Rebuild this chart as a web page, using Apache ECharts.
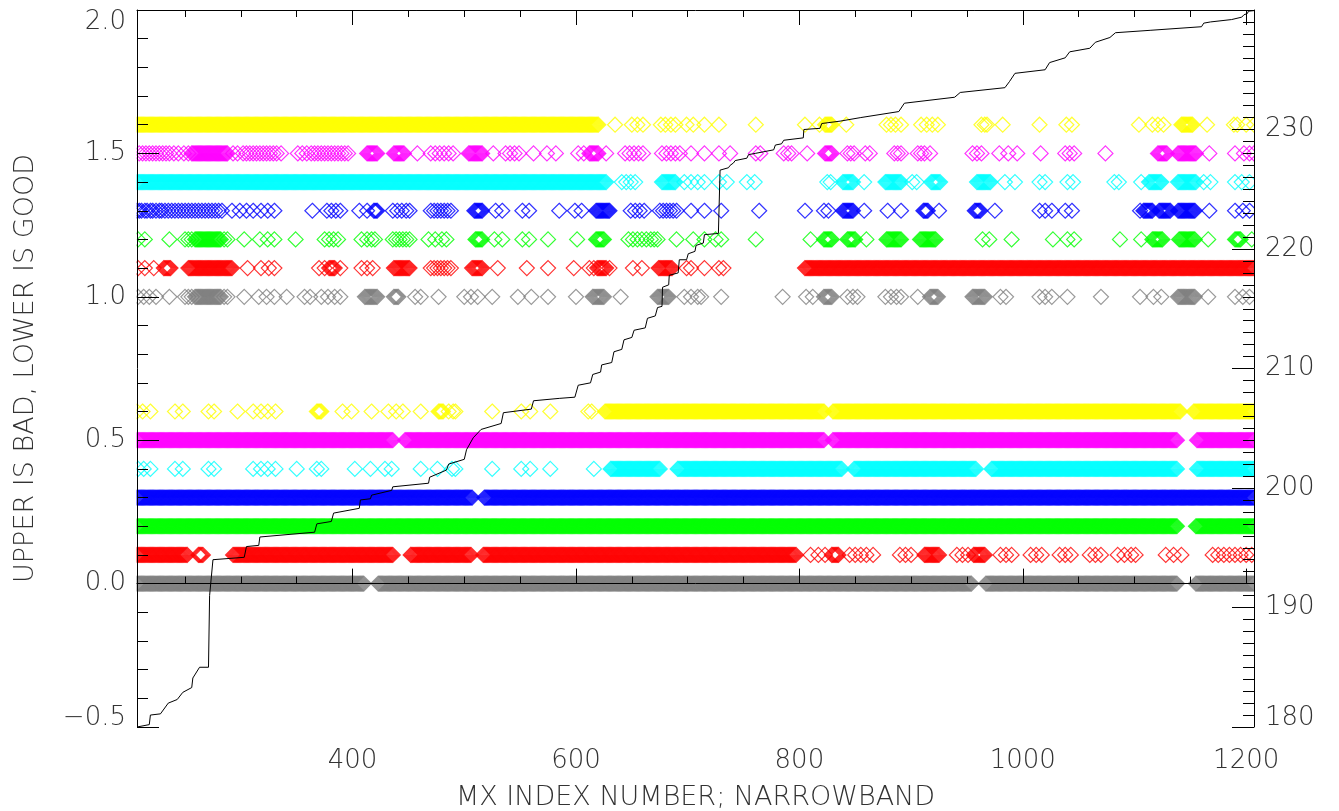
<!DOCTYPE html>
<html>
<head>
<meta charset="utf-8">
<script src="https://cdn.jsdelivr.net/npm/echarts@6/dist/echarts.min.js"></script>
<style>
html, body { margin: 0; padding: 0; background: #fff; }
#main { width: 1339px; height: 811px; }
</style>
</head>
<body>
<div id="main"></div>
<script>
// index range of the x axis
var xMin = 207;
var xMax = 1207;

// each entry is one index, or [from, to] meaning every index in between
var grayHi = [208, 213, 218, 224, 236, 250, 253, 256, [259, 282], 285, 288, 303, 316, 323, 330, 341, 357, 362, 372, 378, 384, 389,
    [411, 422], [437, 441], 456, 461, 477, 500, 506, 512, 525, 548, 560, 575, 600, [615, 625], 640, [673, 683], 697, 703,
    709, 712, 730, 785, 806, 812, [822, 829], 843, 848, 852, 877, 882, 887, 891, 906, [917, 924], [955, 966], 980, 985,
    1015, 1020, 1026, 1040, 1070, 1105, 1117, 1124, [1139, 1154], 1166, 1190, 1197, 1203];
var grayLo = [[207, 410], [423, 954], [967, 1138], [1155, 1207]];

var redHi = [208, 214, 222, [231, 237], [253, 292], 306, 318, 325, 330, 370, 375, [379, 384], 389, 408, 413, 418, [437, 451],
    470, 473, 476, 479, 482, 485, 488, [507, 516], 530, 556, 575, 598, 612, 616, [619, 627], 630, 651, 659, [674, 686],
    699, 703, 715, 728, 732, [805, 1207]];
var redLo = [[207, 252], [262, 266], [293, 436], [452, 506], [517, 797], 810, 817, 823, [829, 835], 845, 850, 855, 860, 866,
    890, 895, 900, [912, 925], 941, 946, 951, [956, 966], 980, 985, 990, 1007, 1012, 1017, 1033, 1038, 1043, 1060, 1065,
    1070, 1085, 1091, 1097, 1101, 1128, 1135, 1142, 1170, 1175, 1180, 1185, 1190, 1195, 1200, 1205];

var greenHi = [208, 214, 236, 250, 253, 256, [259, 282], 285, 288, 303, 317, 324, 330, 349, 375, 379, 383, 387, 408, 413, 417,
    420, 436, 439, 442, 445, 448, 451, 468, 474, 480, 484, [510, 516], 527, 534, 552, 558, 575, 601, [618, 625], 647, 651,
    655, 659, 663, 667, 670, 673, 690, 705, 715, 725, 730, 761, 810, [822, 829], [843, 850], 860, [878, 891], [908, 922],
    964, 970, 990, 1027, 1040, 1046, 1087, 1106, [1116, 1125], [1140, 1154], 1166, [1190, 1195], 1205];
var greenLo = [[207, 1138], [1155, 1207]];

var blueHi = [207, 209, 211, 214, 216, 219, 221, 224, 227, 229, 232, 235, 238, 241, 244, 247, 250, 253, 256, 259, 262, 265,
    268, 271, 274, 277, 280, 283, 292, 299, 305, 311, 318, 324, 330, 364, 377, 381, 385, 389, 406, 413, [419, 422], 436,
    440, 444, 448, 451, 470, 473, 476, 479, 482, 485, 488, [509, 516], 528, 534, 552, 558, 585, 599, 605, [618, 630], 649,
    653, 657, 661, 675, 678, 681, 684, 687, 690, 703, 715, 730, 764, 805, 822, 826, [839, 848], 858, 879, 891, [911, 915],
    925, [957, 962], 975, 1015, 1020, 1026, 1038, 1044, 1105, [1108, 1116], [1122, 1132], [1139, 1154], 1167, 1190, 1197, 1203];
var blueLo = [[207, 507], [518, 1207]];

var cyanHi = [[207, 627], 641, 645, 649, 653, [677, 689], 697, 703, 709, 715, 728, 735, 753, 760, 825, 828, [839, 848], 858,
    [877, 891], 901, 905, [918, 926], [959, 971], 984, 993, 1015, 1020, 1040, 1045, 1082, 1086, 1106, [1113, 1124],
    [1139, 1155], 1162, 1168, 1190, 1196, 1203];
var cyanLo = [208, 213, 219, 241, 248, 271, 276, 311, 318, 324, 331, 350, 368, 372, 402, 416, 429, 435, 461, 476, 489, 492,
    525, 551, 559, 577, 616, [631, 675], [691, 838], [849, 958], [972, 1138], [1156, 1207]];

var magentaHi = [209, 212, 215, 218, 221, 224, 227, 230, 233, 236, 240, 244, 249, 253, [256, 288], 293, 297, 302, 305, 308,
    311, 314, 317, 320, 323, 326, 329, 332, 336, 351, 355, 359, 363, 366, 369, 372, 375, 378, 381, 384, 387, 390, 393, 396,
    [413, 422], [437, 446], 458, 470, 474, 478, 482, 486, 490, [504, 516], 526, 537, 541, 545, 549, 562, 574, 582, 602, 607,
    [612, 620], 627, 644, 648, 652, 656, 660, 677, 681, 685, 689, 693, 703, 715, 728, 738, 761, 765, 786, 790, 793, 807,
    [823, 829], 843, 846, 849, 859, 863, 885, 888, 891, 906, 909, 912, 917, 955, 959, 963, 979, 987, 995, 1016, 1038, 1042,
    1046, 1074, [1121, 1129], [1139, 1155], 1167, 1190, 1198, 1203, 1207];
var magentaLo = [[207, 436], [447, 822], [830, 1138], [1156, 1207]];

var yellowHi = [[207, 620], 635, 650, 655, 660, 676, 680, 685, 689, 699, 705, 715, 728, 761, 805, 818, [823, 829], 842, 878,
    882, 886, 891, 909, 914, 919, 924, 963, 966, 968, 982, 1015, 1039, 1044, 1104, 1116, 1121, 1126, [1142, 1152], 1165,
    1189, 1192, 1200, 1207];
var yellowLo = [207, 212, 219, 241, 248, 271, 276, 297, 311, 318, 324, 331, [368, 372], 391, 399, 417, 432, 439, 445, 461,
    [477, 481], 486, 490, 492, 525, 551, 559, 577, 611, 614, [626, 822], [830, 1141], [1153, 1207]];

// rows from bottom to top: lower band 0.0-0.6, upper band 1.0-1.6
var rowColors = ['#808080', '#ff0000', '#00ff00', '#0000ff', '#00ffff', '#ff00ff', '#ffff00'];
var rowsLo = [grayLo, redLo, greenLo, blueLo, cyanLo, magentaLo, yellowLo];
var rowsHi = [grayHi, redHi, greenHi, blueHi, cyanHi, magentaHi, yellowHi];
var loLevels = [0.0, 0.1, 0.2, 0.3, 0.4, 0.5, 0.6];
var hiLevels = [1.0, 1.1, 1.2, 1.3, 1.4, 1.5, 1.6];

// black staircase on the right axis: [index, value]
var stepLine = [
    [207, 180.0], [208, 180.1], [218, 180.2], [219, 181.0], [228, 181.1], [235, 182.0], [243, 182.3], [248, 182.9],
    [256, 183.3], [257, 184.1], [263, 185.0], [271, 185.0], [272, 191.0], [275, 194.0], [303, 194.2], [305, 195.1],
    [316, 195.2], [317, 195.9], [366, 196.3], [368, 197.0], [381, 197.2], [383, 197.9], [406, 198.3], [407, 199.0],
    [416, 199.1], [417, 199.4], [435, 199.8], [436, 200.1], [468, 200.4], [469, 200.9], [484, 201.5], [486, 202.0],
    [500, 202.4], [502, 203.2], [508, 204.2], [515, 204.9], [533, 205.4], [535, 206.3], [560, 206.6], [562, 207.3],
    [585, 207.5], [599, 207.6], [602, 208.6], [613, 208.8], [615, 209.5], [622, 209.7], [623, 210.3], [632, 210.5],
    [634, 211.4], [641, 211.6], [643, 212.4], [650, 212.6], [652, 213.2], [662, 213.4], [664, 214.2], [671, 214.4],
    [673, 215.1], [677, 215.2], [677.5, 216.8], [683, 217.0], [683.5, 217.8], [691.5, 218.0], [692.5, 219.1], [699, 219.1],
    [700.5, 219.6], [706.5, 219.8], [707.5, 220.3], [714, 220.5], [715, 221.2], [727.5, 221.3], [729, 226.6], [736.5, 226.8],
    [738, 227.0], [741, 227.2], [742.5, 227.4], [753, 227.6], [754.5, 227.9], [760.5, 228.0], [762, 228.1], [777, 228.3],
    [778.5, 228.7], [784, 228.8], [786, 229.1], [803.5, 229.3], [804, 230.0], [818.5, 230.1], [820, 230.5], [836.5, 230.7],
    [838, 230.8], [855, 231.0], [889, 231.5], [894, 232.2], [939, 232.7], [944, 233.1], [984, 233.5], [988, 234.0],
    [993, 234.7], [1020, 235.0], [1024, 235.6], [1038, 236.0], [1042, 236.5], [1060, 236.8], [1065, 237.3], [1078, 237.7],
    [1083, 238.1], [1114, 238.3], [1160, 238.6], [1162, 238.9], [1168, 239.0], [1187, 239.2], [1196, 239.4], [1198, 239.6],
    [1201, 239.7], [1202, 239.9], [1207, 239.95]
];

function expand(list) {
    var out = [];
    list.forEach(function (e) {
        if (Array.isArray(e)) {
            for (var i = e[0]; i <= e[1]; i++) out.push(i);
        } else {
            out.push(e);
        }
    });
    return out;
}

var font = 'DejaVu Sans';
var textColor = '#333';
var textWeight = 200;

var series = [];
function addRow(list, level, color) {
    series.push({
        type: 'scatter',
        symbol: 'diamond',
        symbolSize: 15,
        silent: true,
        itemStyle: { color: 'rgba(0,0,0,0)', borderColor: color, borderWidth: 1.2 },
        data: expand(list).map(function (i) { return [i, level]; })
    });
}
for (var k = 0; k < rowColors.length; k++) {
    addRow(rowsLo[k], loLevels[k], rowColors[k]);
    addRow(rowsHi[k], hiLevels[k], rowColors[k]);
}
series.push({
    type: 'line',
    yAxisIndex: 1,
    symbol: 'none',
    silent: true,
    z: 5,
    lineStyle: { color: '#000', width: 1 },
    data: stepLine
});

var labelStyle = { fontFamily: font, fontSize: 26, fontWeight: textWeight, color: textColor };

var myChart = echarts.init(document.getElementById('main'));
var option = {
    animation: false,
    backgroundColor: '#fff',
    grid: { left: 137, right: 85, top: 10, bottom: 84, containLabel: false, outerBoundsMode: 'none' },
    // white margins so the diamonds stop at the frame, as in the original plot
    graphic: [
        { type: 'rect', z: 8, silent: true, shape: { x: 0, y: 0, width: 136.5, height: 811 }, style: { fill: '#fff' } },
        { type: 'rect', z: 8, silent: true, shape: { x: 1254.5, y: 0, width: 85, height: 811 }, style: { fill: '#fff' } }
    ],
    xAxis: [
        {
            type: 'value',
            min: xMin,
            max: xMax,
            splitNumber: 5,
            z: 10,
            name: 'MX INDEX NUMBER; NARROWBAND',
            nameLocation: 'middle',
            nameGap: 57,
            nameTextStyle: { fontFamily: font, fontSize: 27, fontWeight: textWeight, color: textColor },
            axisLine: { lineStyle: { color: '#000', width: 1 } },
            axisTick: { inside: true, length: 15, lineStyle: { color: '#000' } },
            minorTick: { show: true, splitNumber: 4, length: 7, lineStyle: { color: '#000' } },
            splitLine: { show: false },
            axisLabel: {
                margin: 21, fontFamily: font, fontSize: 26, fontWeight: textWeight, color: textColor,
                formatter: function (v) { return v % 200 === 0 ? String(v) : ''; }
            }
        },
        {
            type: 'value',
            position: 'top',
            min: xMin,
            max: xMax,
            splitNumber: 5,
            z: 10,
            axisLine: { lineStyle: { color: '#000', width: 1 } },
            axisTick: { inside: true, length: 15, lineStyle: { color: '#000' } },
            minorTick: { show: true, splitNumber: 4, length: 7, lineStyle: { color: '#000' } },
            splitLine: { show: false },
            axisLabel: { show: false }
        }
    ],
    yAxis: [
        {
            type: 'value',
            min: -0.5,
            max: 2.0,
            interval: 0.5,
            z: 10,
            name: 'UPPER IS BAD, LOWER IS GOOD',
            nameLocation: 'middle',
            nameGap: 98,
            nameRotate: 90,
            nameTextStyle: { fontFamily: font, fontSize: 27, fontWeight: textWeight, color: textColor },
            axisLine: { show: true, lineStyle: { color: '#000', width: 1 } },
            axisTick: { inside: true, length: 22, lineStyle: { color: '#000' } },
            minorTick: { show: true, splitNumber: 5, length: 11, lineStyle: { color: '#000' } },
            splitLine: { show: false },
            axisLabel: {
                margin: 11, fontFamily: font, fontSize: 26, fontWeight: textWeight, color: textColor,
                formatter: function (v) {
                    var s = (v < 0 ? '\u2212' : '') + Math.abs(v).toFixed(1);
                    if (v === 2) return '{top|' + s + '}';
                    if (v === -0.5) return '{bot|' + s + '}';
                    return s;
                },
                rich: {
                    top: Object.assign({ padding: [24, 0, 0, 0] }, labelStyle),
                    bot: Object.assign({ padding: [0, 0, 18, 0] }, labelStyle)
                }
            }
        },
        {
            type: 'value',
            position: 'right',
            min: 180,
            max: 240,
            interval: 10,
            z: 10,
            axisLine: { show: true, lineStyle: { color: '#000', width: 1 } },
            axisTick: { inside: true, length: 22, lineStyle: { color: '#000' } },
            minorTick: { show: true, splitNumber: 10, length: 11, lineStyle: { color: '#000' } },
            splitLine: { show: false },
            axisLabel: {
                margin: 11, fontFamily: font, fontSize: 26, fontWeight: textWeight, color: textColor,
                formatter: function (v) {
                    if (v >= 240) return '';
                    if (v === 180) return '{bot|180}';
                    return String(v);
                },
                rich: {
                    bot: Object.assign({ padding: [0, 0, 18, 0] }, labelStyle)
                }
            }
        }
    ],
    series: series
};
myChart.setOption(option);
</script>
</body>
</html>
